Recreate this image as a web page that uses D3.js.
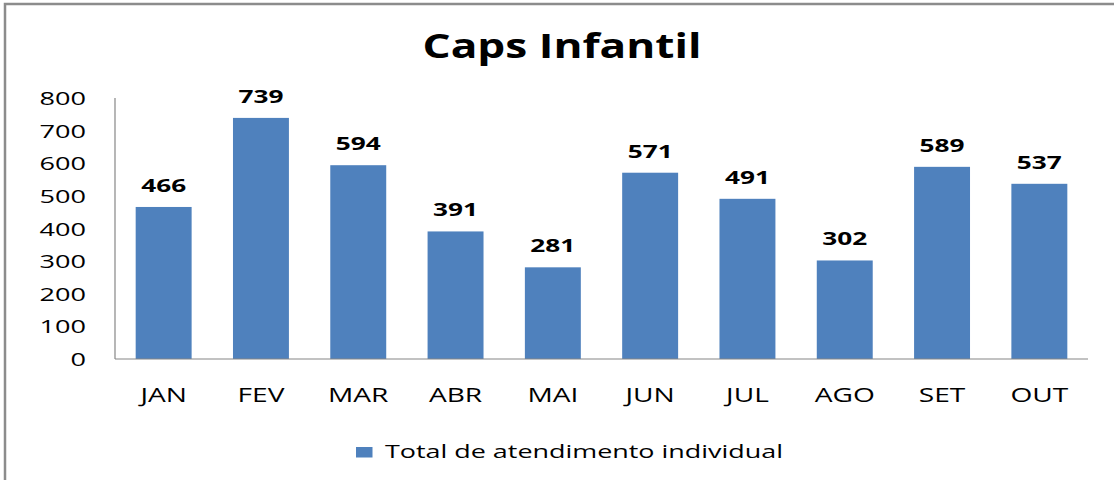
<!DOCTYPE html>
<html>
<head>
<meta charset="utf-8">
<script src="https://cdn.jsdelivr.net/npm/d3@7"></script>
<style>
  html, body { margin: 0; padding: 0; background: #fff; }
  svg { display: block; }
  text { font-family: "Open Sans", "DejaVu Sans", sans-serif; fill: #000; }
</style>
</head>
<body>
<svg id="chart" width="1114" height="480"></svg>
<script>
// Monthly totals of individual care sessions
const months = ["JAN", "FEV", "MAR", "ABR", "MAI", "JUN", "JUL", "AGO", "SET", "OUT"];
const totals = [466, 739, 594, 391, 281, 571, 491, 302, 589, 537];
const yTicks = [0, 100, 200, 300, 400, 500, 600, 700, 800];
const seriesName = "Total de atendimento individual";
const chartTitle = "Caps Infantil";

const svg = d3.select("#chart");
const barColor = "#4F81BD";
const axisColor = "#868686";

// widen glyphs horizontally so text has the wide, flat look of the chart style
function widen(sel, k) {
  sel.each(function () {
    const w = this.getComputedTextLength();
    d3.select(this).attr("textLength", w * k).attr("lengthAdjust", "spacingAndGlyphs");
  });
}
function fitTo(sel, width) {
  sel.attr("textLength", width).attr("lengthAdjust", "spacingAndGlyphs");
}

// outer chart frame (runs past the right and bottom edges)
svg.append("rect")
  .attr("x", 5).attr("y", 4)
  .attr("width", 1130).attr("height", 500)
  .attr("fill", "none").attr("stroke", "#8c8c8c").attr("stroke-width", 2.5);

const x = d3.scaleBand()
  .domain(months)
  .range([115, 1088])
  .paddingInner(0.425)
  .paddingOuter(0.2125);

const y = d3.scaleLinear().domain([0, 800]).range([359, 98]);

// title
const title = svg.append("text")
  .attr("x", 562).attr("y", 58)
  .attr("text-anchor", "middle")
  .style("font-size", "34px").style("font-weight", "bold")
  .text(chartTitle);
fitTo(title, 279);

// y axis labels
const yAxis = d3.axisLeft(y).tickValues(yTicks).tickSize(0).tickPadding(0);
const gy = svg.append("g").attr("transform", "translate(86,0)").call(yAxis);
gy.select(".domain").remove();
gy.selectAll("text")
  .attr("x", 0).attr("dy", null).attr("y", 6.6)
  .style("font-size", "18.6px").style("font-family", "'Open Sans', sans-serif")
  .attr("fill", "#000");
const yLabelNodes = gy.selectAll("text").nodes();
const kReg = 46.5 / yLabelNodes[yLabelNodes.length - 1].getComputedTextLength();
widen(gy.selectAll("text").filter((d) => d >= 100), kReg);
widen(gy.selectAll("text").filter((d) => d < 100), kReg);

// axis lines
svg.append("line")
  .attr("x1", 115).attr("x2", 115).attr("y1", y(800)).attr("y2", y(0))
  .attr("stroke", axisColor).attr("stroke-width", 1.2);

// bars
svg.append("g").selectAll("rect")
  .data(months.map((m, i) => ({ m, v: totals[i] })))
  .join("rect")
  .attr("x", (d) => x(d.m))
  .attr("width", x.bandwidth())
  .attr("y", (d) => y(d.v))
  .attr("height", (d) => y(0) - y(d.v))
  .attr("fill", barColor);

svg.append("line")
  .attr("x1", 115).attr("x2", 1088).attr("y1", y(0)).attr("y2", y(0))
  .attr("stroke", axisColor).attr("stroke-width", 1.2);

// value labels
const vals = svg.append("g").selectAll("text")
  .data(months.map((m, i) => ({ m, v: totals[i] })))
  .join("text")
  .attr("x", (d) => x(d.m) + x.bandwidth() / 2)
  .attr("y", (d) => y(d.v) - 15)
  .attr("text-anchor", "middle")
  .style("font-size", "18.6px").style("font-weight", "bold")
  .text((d) => d.v);
const kBold = 45 / vals.node().getComputedTextLength();
widen(vals, kBold);

// x axis labels
const xAxis = d3.axisBottom(x).tickSize(0).tickPadding(0);
const gx = svg.append("g").attr("transform", "translate(0,359)").call(xAxis);
gx.select(".domain").remove();
gx.selectAll("text")
  .attr("dy", null).attr("y", 42.5)
  .style("font-size", "19.5px").style("font-family", "'Open Sans', sans-serif")
  .attr("fill", "#000");
const kMon = 46.5 / gx.selectAll("text").nodes()[0].getComputedTextLength();
widen(gx.selectAll("text"), kMon);

// legend
svg.append("rect")
  .attr("x", 356).attr("y", 447).attr("width", 16.5).attr("height", 10.5)
  .attr("fill", barColor);
const leg = svg.append("text")
  .attr("x", 385).attr("y", 458.3)
  .style("font-size", "18.6px")
  .text(seriesName);
fitTo(leg, 398);
</script>
</body>
</html>
